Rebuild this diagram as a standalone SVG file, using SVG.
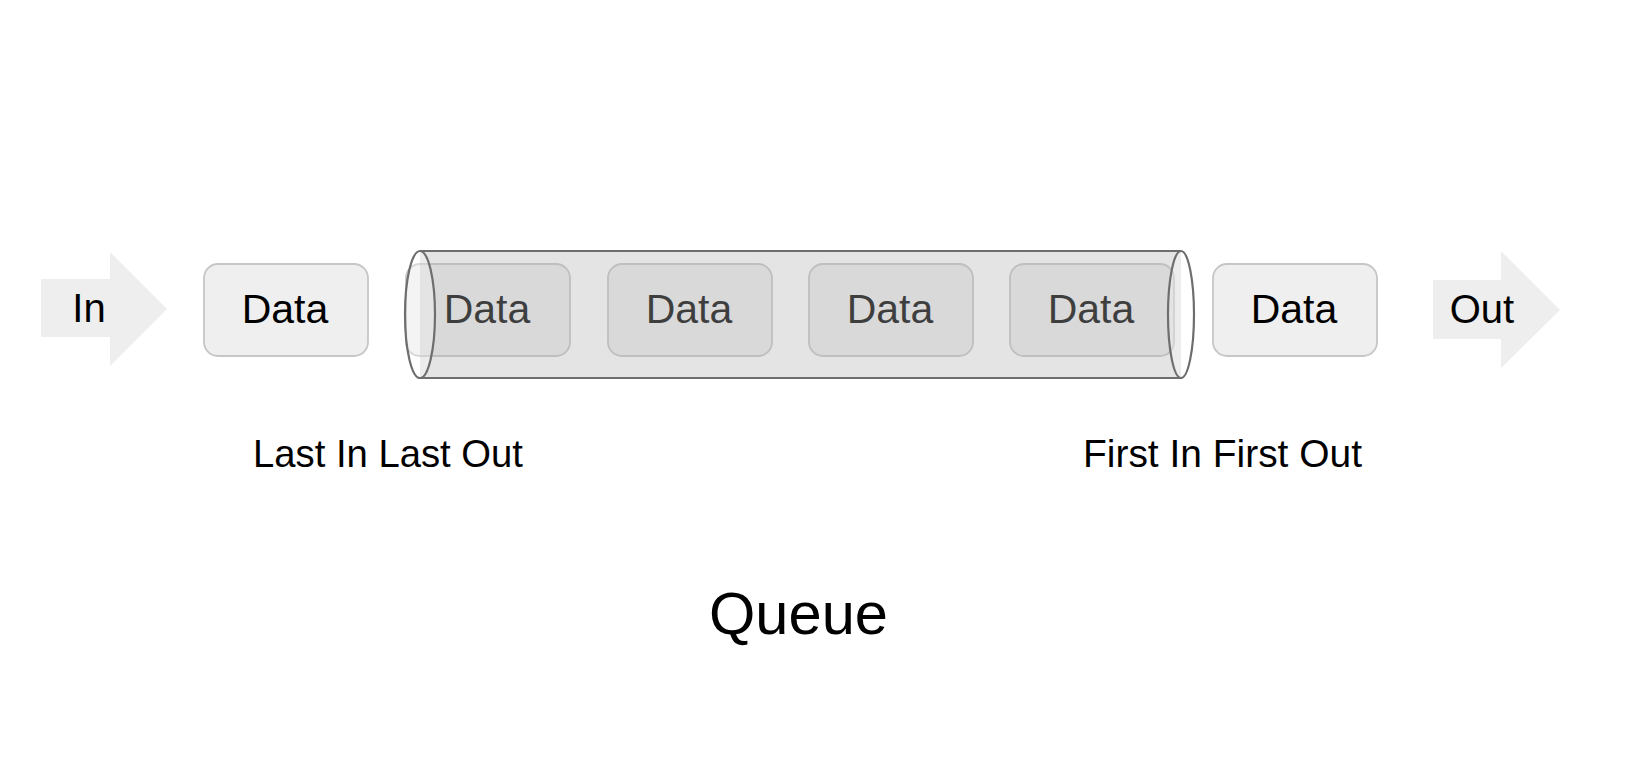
<svg xmlns="http://www.w3.org/2000/svg" width="1646" height="774" viewBox="0 0 1646 774">
<style>
.box{fill:#efefef;stroke:#c6c6c6;stroke-width:1.8}
.lbl{font-family:"Liberation Sans",Arial,sans-serif;fill:#000}
.data{font-size:41px;text-anchor:middle}
.arrow{fill:#eeeeee}
.cylbody{fill:#b3b3b3;fill-opacity:0.35;stroke:none}
.cylline{stroke:#6e6e6e;stroke-width:2.2;fill:none}
.cylend{fill:#ffffff;fill-opacity:0.3;stroke:#6e6e6e;stroke-width:2.2}
</style>
<rect width="1646" height="774" fill="#ffffff"/>
<g id="in-arrow">
<path class="arrow" d="M41,279 H110 V252 L167,309 L110,366 V337 H41 Z"/>
<text class="lbl" x="89" y="322" font-size="40" text-anchor="middle">In</text>
</g>
<g id="data-in">
<rect class="box" x="204" y="264" width="164" height="92" rx="14"/>
<text class="lbl data" x="285" y="323">Data</text>
</g>
<g id="data-1">
<rect class="box" x="406" y="264" width="164" height="92" rx="14"/>
<text class="lbl data" x="487" y="323">Data</text>
</g>
<g id="data-2">
<rect class="box" x="608" y="264" width="164" height="92" rx="14"/>
<text class="lbl data" x="689" y="323">Data</text>
</g>
<g id="data-3">
<rect class="box" x="809" y="264" width="164" height="92" rx="14"/>
<text class="lbl data" x="890" y="323">Data</text>
</g>
<g id="data-4">
<rect class="box" x="1010" y="264" width="164" height="92" rx="14"/>
<text class="lbl data" x="1091" y="323">Data</text>
</g>
<g id="queue-tube">
<rect class="cylbody" x="420" y="251" width="761" height="127"/>
<line class="cylline" x1="420" y1="251" x2="1181" y2="251"/>
<line class="cylline" x1="420" y1="378" x2="1181" y2="378"/>
<ellipse class="cylend" cx="420" cy="314.5" rx="15" ry="63.5"/>
<ellipse class="cylend" cx="1181" cy="314.5" rx="13" ry="63.5"/>
</g>
<g id="data-out">
<rect class="box" x="1213" y="264" width="164" height="92" rx="14"/>
<text class="lbl data" x="1294" y="323">Data</text>
</g>
<g id="out-arrow">
<path class="arrow" d="M1433,280 H1501 V251 L1560,310 L1501,368 V339 H1433 Z"/>
<text class="lbl" x="1482" y="323" font-size="40" text-anchor="middle">Out</text>
</g>
<g id="connectors"></g>
<g id="labels">
<text class="lbl" x="253" y="467" font-size="39" textLength="270" lengthAdjust="spacingAndGlyphs">Last In Last Out</text>
<text class="lbl" x="1083" y="467" font-size="39" textLength="279" lengthAdjust="spacingAndGlyphs">First In First Out</text>
<text class="lbl" x="709" y="634" font-size="60" textLength="179" lengthAdjust="spacingAndGlyphs">Queue</text>
</g>
</svg>
